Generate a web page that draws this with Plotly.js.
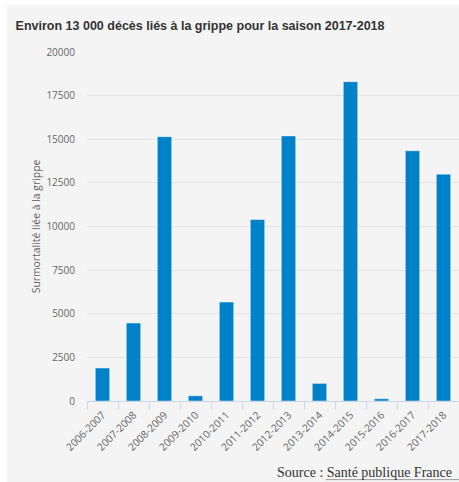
<!DOCTYPE html>
<html>
<head>
<meta charset="utf-8">
<script src="https://cdn.plot.ly/plotly-3.0.1.min.js"></script>
<style>
  html, body { margin: 0; padding: 0; background: #ffffff; overflow: hidden; }
  #chart { position: absolute; left: 7px; top: 5px; width: 452px; height: 477px; }
</style>
</head>
<body>
<div id="chart"></div>
<script>
const seasons = ["2006-2007","2007-2008","2008-2009","2009-2010","2010-2011","2011-2012",
                 "2012-2013","2013-2014","2014-2015","2015-2016","2016-2017","2017-2018"];
const excessDeaths = [1890, 4470, 15150, 300, 5670, 10400, 15190, 1010, 18300, 130, 14340, 13000];
const titleText = "Environ 13 000 décès liés à la grippe pour la saison 2017-2018";
const yTitle = "Surmortalité liée à la grippe";
const sourceText = "Source : Santé publique France";

const tickFont = { family: "Open Sans, DejaVu Sans, sans-serif", size: 10, color: "#666666" };

const trace = {
  type: "bar",
  x: seasons,
  y: excessDeaths,
  marker: { color: "#0082c9", line: { color: "rgba(255,255,255,0.45)", width: 1 } },
  hoverinfo: "x+y"
};

const layout = {
  width: 452,
  height: 477,
  paper_bgcolor: "#f4f4f4",
  plot_bgcolor: "#f4f4f4",
  margin: { l: 80, r: 0, t: 47, b: 81, pad: 0 },
  bargap: 0.535,
  showlegend: false,
  title: {
    text: "<b>" + titleText + "</b>",
    font: { family: "Liberation Sans, Arial, sans-serif", size: 12.5, color: "#333333" },
    x: 0.019, xanchor: "left", xref: "container",
    y: 0.957, yanchor: "middle", yref: "container"
  },
  xaxis: {
    type: "category",
    tickangle: -45,
    tickfont: { family: "Open Sans, DejaVu Sans, sans-serif", size: 10.3, color: "#666666" },
    showline: true,
    linecolor: "#ccd6eb",
    linewidth: 1,
    ticks: "outside",
    tickson: "boundaries",
    ticklen: 8,
    tickcolor: "#ccd6eb",
    ticklabelstandoff: 3,
    showgrid: false,
    fixedrange: true
  },
  yaxis: {
    range: [0, 20000],
    dtick: 2500,
    tick0: 0,
    tickformat: "d",
    tickfont: tickFont,
    showgrid: true,
    gridcolor: "#e3e3e3",
    gridwidth: 1,
    zeroline: false,
    showline: false,
    ticks: "",
    ticklabelstandoff: 11,
    title: { text: yTitle, font: { family: "Open Sans, DejaVu Sans, sans-serif", size: 10.4, color: "#666666" }, standoff: 3 },
    fixedrange: true
  },
  annotations: [{
    text: sourceText,
    xref: "paper", yref: "paper",
    x: 0.505, y: -0.204,
    xanchor: "left", yanchor: "middle",
    showarrow: false,
    font: { family: "Liberation Serif, DejaVu Serif, serif", size: 14, color: "#333333" }
  }],
  shapes: [{
    type: "line", xref: "paper", yref: "paper",
    x0: 0.642, x1: 1.02, y0: -0.2253, y1: -0.2253,
    line: { color: "#9a9a9a", width: 1 }
  }]
};

Plotly.newPlot("chart", [trace], layout, { displayModeBar: false, staticPlot: true });
</script>
</body>
</html>
